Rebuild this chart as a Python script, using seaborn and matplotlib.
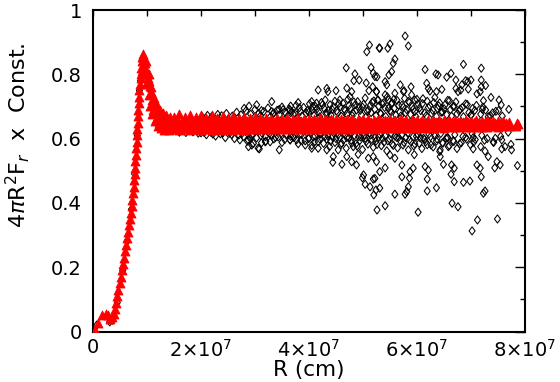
import numpy as np
import pandas as pd
import matplotlib
matplotlib.use("Agg")
import matplotlib.pyplot as plt
from matplotlib.path import Path
from matplotlib.ticker import MultipleLocator, FixedLocator
import seaborn as sns

# ---------------- data (R in units of 1e7 cm) ----------------
# red triangles: rising part, peak and decay
red_curve_r = [0.04, 0.10, 0.16, 0.24, 0.28, 0.32, 0.36, 0.39, 0.41, 0.43,
               0.45, 0.47, 0.50, 0.52, 0.54, 0.56, 0.58, 0.60, 0.62, 0.635,
               0.65, 0.67, 0.69, 0.70, 0.715, 0.73, 0.74, 0.75, 0.76, 0.77,
               0.775, 0.785, 0.79, 0.80, 0.81, 0.815, 0.82, 0.83, 0.835, 0.84,
               0.85, 0.855, 0.86, 0.865,
               0.88, 0.89, 0.90, 0.91, 0.92, 0.93, 0.94, 0.95, 0.89, 0.91, 0.93, 0.96,
               0.98, 1.03, 1.08, 1.13, 1.18, 1.24, 1.30, 1.36, 1.42,
               0.95, 0.99, 1.03, 1.06, 1.10, 1.15, 1.20, 1.26, 1.32, 1.40,
               1.00, 1.05, 1.10, 1.15, 1.20, 1.25, 1.30, 1.36, 1.42]
red_curve_v = [0.005, 0.025, 0.05, 0.055, 0.05, 0.04, 0.045, 0.055, 0.07, 0.09,
               0.11, 0.13, 0.15, 0.17, 0.19, 0.21, 0.23, 0.25, 0.27, 0.29,
               0.31, 0.33, 0.35, 0.37, 0.39, 0.41, 0.43, 0.45, 0.47, 0.49,
               0.51, 0.53, 0.55, 0.57, 0.59, 0.61, 0.63, 0.65, 0.67, 0.69,
               0.71, 0.73, 0.75, 0.77,
               0.80, 0.82, 0.84, 0.855, 0.862, 0.855, 0.845, 0.835, 0.79, 0.81, 0.82, 0.82,
               0.84, 0.80, 0.76, 0.725, 0.705, 0.69, 0.68, 0.672, 0.668,
               0.80, 0.77, 0.735, 0.70, 0.675, 0.655, 0.64, 0.632, 0.628, 0.626,
               0.80, 0.765, 0.72, 0.695, 0.67, 0.66, 0.652, 0.648, 0.646]
red_fill_r = [0.97, 1.01, 1.04, 1.07, 1.09, 1.12, 1.14, 1.17, 1.19, 1.22, 1.28, 1.34, 1.39,
              1.12, 1.17, 1.23, 1.29, 1.35, 1.45, 1.45]
red_fill_v = [0.835, 0.79, 0.78, 0.745, 0.74, 0.71, 0.70, 0.685, 0.68, 0.67, 0.665, 0.658, 0.655,
              0.69, 0.66, 0.648, 0.64, 0.636, 0.636, 0.656]

# red triangles: flat band, five rows
red_flat_r = [1.5, 1.6, 1.7, 1.8, 1.9, 2.0, 2.1, 2.2, 2.3, 2.4, 2.5, 2.6, 2.7, 2.8, 2.9, 3.0,
              3.1, 3.2, 3.3, 3.4, 3.5, 3.6, 3.7, 3.8, 3.9, 4.0, 4.1, 4.2, 4.3, 4.4, 4.5, 4.6,
              4.7, 4.8, 4.9, 5.0, 5.1, 5.2, 5.3, 5.4, 5.5, 5.6, 5.7, 5.8, 5.9, 6.0, 6.1, 6.2,
              6.3, 6.4, 6.5, 6.6, 6.7, 6.8, 6.9, 7.0, 7.1, 7.2, 7.3, 7.4, 7.5, 7.6, 7.7]
red_top_v = [0.668, 0.675, 0.666, 0.674, 0.667, 0.673, 0.665, 0.672, 0.665, 0.670, 0.664, 0.669, 0.663, 0.667, 0.663, 0.666,
             0.663, 0.665, 0.662, 0.664, 0.662, 0.663, 0.661, 0.664, 0.661, 0.662, 0.661, 0.663, 0.660, 0.662, 0.660, 0.661,
             0.660, 0.662, 0.659, 0.661, 0.660, 0.659, 0.661, 0.659, 0.660, 0.658, 0.660, 0.658, 0.659, 0.658, 0.659, 0.657,
             0.659, 0.657, 0.658, 0.657, 0.658, 0.656, 0.658, 0.656, 0.657, 0.656, 0.657, 0.655, 0.656, 0.654, 0.653]
red_mid_v = [0.646, 0.647, 0.645, 0.646, 0.644, 0.646, 0.645, 0.645, 0.644, 0.646, 0.645, 0.644, 0.645, 0.646, 0.644, 0.645,
             0.645, 0.644, 0.646, 0.645, 0.644, 0.645, 0.645, 0.644, 0.646, 0.645, 0.644, 0.645, 0.646, 0.645, 0.644, 0.645,
             0.645, 0.646, 0.644, 0.645, 0.645, 0.644, 0.645, 0.646, 0.645, 0.644, 0.645, 0.645, 0.646, 0.645, 0.644, 0.645,
             0.646, 0.645, 0.645, 0.644, 0.645, 0.646, 0.645, 0.645, 0.645, 0.646, 0.645, 0.645, 0.644, 0.645, 0.645]
red_bot_v = [0.630, 0.628, 0.629, 0.627, 0.629, 0.628, 0.629, 0.627, 0.629, 0.628, 0.630, 0.628, 0.629, 0.628, 0.630, 0.629,
             0.630, 0.629, 0.630, 0.629, 0.631, 0.630, 0.630, 0.629, 0.631, 0.630, 0.631, 0.630, 0.631, 0.630, 0.632, 0.631,
             0.631, 0.630, 0.632, 0.631, 0.632, 0.631, 0.632, 0.633, 0.632, 0.633, 0.632, 0.633, 0.634, 0.633, 0.634, 0.633,
             0.634, 0.635, 0.634, 0.635, 0.636, 0.635, 0.636, 0.635, 0.637, 0.636, 0.637, 0.638, 0.637, 0.638, 0.639]
red_flat_r2 = [1.55, 1.65, 1.75, 1.85, 1.95, 2.05, 2.15, 2.25, 2.35, 2.45, 2.55, 2.65, 2.75, 2.85, 2.95, 3.05,
               3.15, 3.25, 3.35, 3.45, 3.55, 3.65, 3.75, 3.85, 3.95, 4.05, 4.15, 4.25, 4.35, 4.45, 4.55, 4.65,
               4.75, 4.85, 4.95, 5.05, 5.15, 5.25, 5.35, 5.45, 5.55, 5.65, 5.75, 5.85, 5.95, 6.05, 6.15, 6.25,
               6.35, 6.45, 6.55, 6.65, 6.75, 6.85, 6.95, 7.05, 7.15, 7.25, 7.35, 7.45, 7.55, 7.65]
red_um_v = [0.656, 0.655, 0.657, 0.654, 0.656, 0.655, 0.654, 0.656, 0.655, 0.654, 0.656, 0.655, 0.654, 0.655, 0.656, 0.654,
            0.654, 0.655, 0.653, 0.654, 0.655, 0.653, 0.654, 0.654, 0.653, 0.655, 0.654, 0.653, 0.654, 0.654, 0.653, 0.655,
            0.654, 0.653, 0.654, 0.653, 0.653, 0.654, 0.653, 0.652, 0.654, 0.653, 0.652, 0.653, 0.654, 0.652, 0.653, 0.652,
            0.653, 0.652, 0.653, 0.651, 0.652, 0.653, 0.651, 0.652, 0.651, 0.652, 0.651, 0.650, 0.651, 0.649]
red_lm_v = [0.637, 0.638, 0.636, 0.638, 0.637, 0.636, 0.638, 0.637, 0.636, 0.638, 0.637, 0.636, 0.637, 0.638, 0.637, 0.636,
            0.638, 0.637, 0.638, 0.639, 0.637, 0.638, 0.639, 0.638, 0.637, 0.639, 0.638, 0.639, 0.638, 0.637, 0.639, 0.638,
            0.639, 0.638, 0.639, 0.638, 0.639, 0.640, 0.639, 0.640, 0.639, 0.640, 0.641, 0.640, 0.639, 0.640, 0.641, 0.640,
            0.641, 0.640, 0.641, 0.642, 0.641, 0.642, 0.641, 0.642, 0.642, 0.643, 0.642, 0.643, 0.643, 0.644]
red_tail_r = [7.84, 7.87, 7.86]
red_tail_v = [0.640, 0.644, 0.648]

# black diamonds: along the rising curve
black_curve_r = [0.07, 0.31, 0.36, 0.45, 0.55, 0.63, 0.71, 0.77, 0.82, 0.86, 0.88]
black_curve_v = [0.02, 0.03, 0.035, 0.09, 0.19, 0.28, 0.38, 0.49, 0.61, 0.75, 0.78]

# black diamonds: dense cloud just above the band
black_hi_r = [2.02, 2.12, 2.2, 2.31, 2.38, 2.47, 2.58, 2.66, 2.74, 2.83, 2.92, 3.0, 3.07, 3.16, 3.24, 3.33,
              3.41, 3.5, 3.56, 3.63, 3.71, 3.76, 3.84, 3.9, 3.95, 4.01, 4.06, 4.12, 4.18, 4.23, 4.28, 4.34,
              4.39, 4.43, 4.48, 4.53, 4.58, 4.63, 4.67, 4.72, 4.77, 4.81, 4.86, 4.9, 4.95, 4.99, 5.04, 5.08,
              5.13, 5.17, 5.22, 5.27, 5.32, 5.36, 5.4, 5.45, 5.5, 5.54, 5.58, 5.63, 5.68, 5.72, 5.77, 5.81,
              5.86, 5.91, 5.96, 6.0, 6.05, 6.1, 6.14, 6.19, 6.24, 6.29, 6.33, 6.38, 6.42, 6.47, 6.52, 6.57,
              6.62, 6.67, 6.72, 6.78, 6.84, 6.9, 6.96, 7.03, 7.1, 7.18, 7.27, 7.36, 7.46, 7.58]
black_hi_v = [0.668, 0.672, 0.669, 0.675, 0.671, 0.678, 0.670, 0.682, 0.674, 0.686, 0.676, 0.690, 0.679, 0.684, 0.695, 0.677,
              0.688, 0.698, 0.681, 0.692, 0.676, 0.703, 0.685, 0.697, 0.679, 0.708, 0.689, 0.700, 0.683, 0.712, 0.694, 0.678,
              0.705, 0.690, 0.716, 0.681, 0.699, 0.710, 0.687, 0.722, 0.693, 0.680, 0.706, 0.715, 0.688, 0.698, 0.726, 0.684,
              0.702, 0.713, 0.691, 0.720, 0.679, 0.707, 0.697, 0.730, 0.686, 0.711, 0.694, 0.719, 0.682, 0.704, 0.725, 0.690,
              0.713, 0.700, 0.684, 0.722, 0.696, 0.709, 0.680, 0.716, 0.702, 0.688, 0.728, 0.694, 0.711, 0.683, 0.705, 0.719,
              0.690, 0.700, 0.714, 0.686, 0.697, 0.708, 0.681, 0.694, 0.703, 0.676, 0.689, 0.672, 0.685, 0.670]
black_hi2_r = [3.1, 3.28, 3.45, 3.6, 3.74, 3.87, 4.0, 4.09, 4.2, 4.31, 4.41, 4.51, 4.6, 4.7, 4.8, 4.88, 4.97, 5.06, 5.15,
               5.24, 5.33, 5.42, 5.52, 5.61, 5.7, 5.79, 5.88, 5.98, 6.07, 6.17, 6.27, 6.36, 6.45, 6.55, 6.64, 6.74, 6.86, 7.0]
black_hi2_v = [0.671, 0.667, 0.674, 0.669, 0.678, 0.670, 0.683, 0.672, 0.668, 0.679, 0.673, 0.686, 0.669, 0.676, 0.671,
               0.689, 0.674, 0.668, 0.681, 0.672, 0.677, 0.669, 0.684, 0.673, 0.670, 0.680, 0.675, 0.668, 0.687, 0.671,
               0.678, 0.669, 0.682, 0.674, 0.670, 0.677, 0.668, 0.673]
black_hi3_r = [3.35, 3.52, 3.68, 3.82, 3.97, 4.07, 4.15, 4.25, 4.36, 4.45, 4.55, 4.65, 4.74, 4.83, 4.92, 5.01, 5.1, 5.2,
               5.29, 5.38, 5.47, 5.57, 5.66, 5.75, 5.84, 5.93, 6.02, 6.11, 6.21, 6.31, 6.4, 6.5, 6.6, 6.69, 6.8, 6.93,
               7.07, 7.22, 7.4]
black_hi3_v = [0.680, 0.690, 0.684, 0.696, 0.687, 0.700, 0.693, 0.705, 0.688, 0.699, 0.709, 0.692, 0.703, 0.714, 0.696,
               0.707, 0.690, 0.717, 0.701, 0.711, 0.694, 0.722, 0.704, 0.698, 0.716, 0.691, 0.708, 0.724, 0.697, 0.712,
               0.702, 0.693, 0.718, 0.700, 0.692, 0.706, 0.688, 0.698, 0.680]

# black diamonds: dense cloud just below the band
black_lo_r = [2.0, 2.1, 2.18, 2.27, 2.36, 2.45, 2.53, 2.62, 2.7, 2.79, 2.87, 2.95, 3.03, 3.11, 3.2, 3.27, 3.35, 3.43,
              3.5, 3.58, 3.65, 3.72, 3.8, 3.86, 3.93, 3.99, 4.05, 4.11, 4.17, 4.22, 4.27, 4.33, 4.38, 4.43, 4.48, 4.54,
              4.59, 4.64, 4.69, 4.74, 4.79, 4.84, 4.89, 4.94, 4.99, 5.04, 5.09, 5.14, 5.19, 5.24, 5.29, 5.34, 5.39, 5.44,
              5.49, 5.54, 5.59, 5.64, 5.69, 5.74, 5.79, 5.84, 5.89, 5.94, 5.99, 6.04, 6.09, 6.14, 6.19, 6.25, 6.3, 6.36,
              6.42, 6.48, 6.54, 6.6, 6.67, 6.74, 6.82, 6.9, 6.99, 7.08, 7.18, 7.3, 7.42, 7.55]
black_lo_v = [0.618, 0.612, 0.620, 0.608, 0.615, 0.603, 0.617, 0.600, 0.611, 0.606, 0.597, 0.614, 0.602, 0.609, 0.592, 0.616,
              0.599, 0.605, 0.588, 0.611, 0.596, 0.603, 0.584, 0.613, 0.593, 0.600, 0.579, 0.608, 0.590, 0.614, 0.585, 0.598,
              0.575, 0.606, 0.588, 0.612, 0.581, 0.596, 0.570, 0.603, 0.586, 0.610, 0.577, 0.594, 0.566, 0.601, 0.583, 0.611,
              0.573, 0.592, 0.604, 0.578, 0.589, 0.562, 0.599, 0.583, 0.608, 0.571, 0.593, 0.580, 0.603, 0.565, 0.590, 0.577,
              0.607, 0.585, 0.569, 0.598, 0.581, 0.606, 0.574, 0.592, 0.560, 0.586, 0.601, 0.578, 0.594, 0.569, 0.587, 0.604,
              0.581, 0.597, 0.575, 0.600, 0.588, 0.607]
black_lo2_r = [1.6, 1.72, 1.85, 1.95, 2.06, 2.22, 2.4, 2.57, 2.76, 2.94, 3.13, 3.31, 3.48, 3.66, 3.83, 3.96, 4.08, 4.2, 4.35,
               4.46, 4.57, 4.67, 4.78, 4.92, 5.02, 5.12, 5.22, 5.31, 5.41, 5.52, 5.62, 5.72, 5.83, 5.93, 6.02, 6.12, 6.22,
               6.33, 6.44, 6.56, 6.7, 6.85, 7.02, 7.2]
black_lo2_v = [0.620, 0.619, 0.621, 0.617, 0.619, 0.614, 0.618, 0.612, 0.616, 0.610, 0.617, 0.609, 0.615, 0.607, 0.613,
               0.619, 0.605, 0.614, 0.609, 0.617, 0.603, 0.612, 0.616, 0.606, 0.611, 0.618, 0.602, 0.613, 0.608, 0.615,
               0.604, 0.611, 0.617, 0.606, 0.612, 0.601, 0.614, 0.608, 0.616, 0.603, 0.612, 0.607, 0.615, 0.610]
black_lo3_r = [3.38, 3.55, 3.7, 3.85, 4.0, 4.1, 4.2, 4.3, 4.4, 4.5, 4.6, 4.7, 4.78, 4.87, 4.96, 5.06, 5.16, 5.26, 5.36,
               5.46, 5.56, 5.66, 5.76, 5.86, 5.96, 6.06, 6.16, 6.26, 6.37, 6.47, 6.57, 6.68, 6.79, 6.92, 7.05, 7.25, 7.45]
black_lo3_v = [0.604, 0.597, 0.607, 0.594, 0.602, 0.589, 0.599, 0.607, 0.592, 0.600, 0.586, 0.603, 0.595, 0.584, 0.605,
               0.591, 0.598, 0.582, 0.601, 0.593, 0.579, 0.604, 0.588, 0.596, 0.583, 0.602, 0.590, 0.580, 0.599, 0.587,
               0.603, 0.591, 0.584, 0.598, 0.589, 0.595, 0.601]

# black diamonds: outlying scatter
black_out_r = [5.12, 5.07, 5.30, 4.69, 4.85, 4.83, 4.93, 5.15, 5.19, 5.26, 5.06, 5.11, 5.18, 5.25, 4.70, 4.79, 4.76, 4.17,
               4.33, 4.35, 4.50, 4.57, 4.30, 3.31, 4.05, 4.14, 3.80, 3.66, 3.65, 3.03, 2.89, 2.80, 3.45, 3.31, 3.12,
               5.78, 5.84, 5.31, 5.46, 5.50, 5.59, 5.56, 5.53, 5.48, 5.41, 5.44, 6.15, 6.86, 7.19, 6.35, 6.39, 6.55, 6.63,
               6.72, 6.90, 6.94, 7.00, 7.19, 7.27, 7.19, 7.17, 5.69, 5.89, 5.76, 6.18, 6.21, 6.24, 6.46, 6.36, 6.72, 6.76,
               6.83, 6.81, 6.95, 7.11, 7.23, 7.21, 7.37, 7.52, 7.56, 7.51, 7.70, 7.32, 7.00, 5.22, 5.25, 5.28, 5.41, 5.47,
               5.53, 5.59, 5.75, 5.90, 5.96,
               2.72, 2.88, 2.97, 2.91, 3.08, 3.19, 3.45, 3.65, 3.77, 3.93, 4.05, 4.17, 4.33, 4.45, 4.44, 4.61, 4.54, 4.70,
               4.79, 4.88, 4.91, 4.82, 5.01, 4.99, 5.04, 5.13, 5.19, 5.24, 5.20, 5.26, 5.10, 5.19, 5.25, 2.86, 2.94, 3.06,
               3.12, 3.28, 3.19,
               5.41, 5.59, 5.78, 5.81, 5.72, 5.86, 5.87, 5.84, 6.02, 6.15, 6.21, 6.19, 6.19, 6.36, 6.43, 6.49, 6.43, 6.58,
               6.64, 6.69, 6.63, 6.69, 6.65, 6.76, 6.86, 6.98, 7.04, 7.04, 7.11, 7.17, 7.19, 7.23, 7.26, 7.12, 7.02, 7.26,
               7.32, 7.41, 7.57, 7.48, 7.54, 7.44, 7.57, 7.63, 7.74, 7.75, 7.69, 7.86, 7.49,
               5.22, 5.31, 5.41, 5.59, 5.72, 5.50, 5.31, 5.93, 5.95]
black_out_v = [0.891, 0.870, 0.882, 0.820, 0.801, 0.780, 0.782, 0.821, 0.804, 0.792, 0.773, 0.749, 0.761, 0.746, 0.757,
               0.746, 0.730, 0.751, 0.756, 0.746, 0.749, 0.720, 0.720, 0.715, 0.715, 0.710, 0.712, 0.701, 0.689, 0.705,
               0.701, 0.694, 0.691, 0.684, 0.687,
               0.919, 0.888, 0.881, 0.881, 0.894, 0.847, 0.834, 0.808, 0.798, 0.777, 0.767, 0.815, 0.831, 0.819, 0.801,
               0.798, 0.791, 0.803, 0.782, 0.780, 0.777, 0.782, 0.782, 0.765, 0.761, 0.746, 0.767, 0.761, 0.749, 0.772,
               0.756, 0.748, 0.753, 0.746, 0.756, 0.746, 0.767, 0.751, 0.754, 0.739, 0.718, 0.691, 0.728, 0.720, 0.705,
               0.687, 0.691, 0.668, 0.673, 0.793, 0.746, 0.720, 0.736, 0.720, 0.710, 0.741, 0.746, 0.736, 0.720,
               0.596, 0.575, 0.585, 0.601, 0.568, 0.590, 0.565, 0.596, 0.596, 0.580, 0.570, 0.570, 0.565, 0.544, 0.526,
               0.520, 0.565, 0.544, 0.528, 0.518, 0.551, 0.575, 0.487, 0.478, 0.458, 0.450, 0.474, 0.440, 0.425, 0.378,
               0.539, 0.544, 0.528, 0.592, 0.580, 0.570, 0.587, 0.590, 0.606,
               0.391, 0.427, 0.427, 0.435, 0.481, 0.477, 0.497, 0.450, 0.371, 0.513, 0.502, 0.474, 0.437, 0.447, 0.544,
               0.520, 0.565, 0.575, 0.518, 0.508, 0.489, 0.466, 0.399, 0.388, 0.464, 0.468, 0.603, 0.568, 0.518, 0.508,
               0.481, 0.430, 0.437, 0.347, 0.313, 0.561, 0.544, 0.590, 0.596, 0.528, 0.518, 0.509, 0.568, 0.575, 0.582,
               0.565, 0.620, 0.516, 0.350,
               0.476, 0.497, 0.509, 0.539, 0.518, 0.549, 0.446, 0.508, 0.550]

x_ticks = [0, 2e7, 4e7, 6e7, 8e7]
x_tick_labels = ['0', r'2$\times$10$^{7}$', r'4$\times$10$^{7}$', r'6$\times$10$^{7}$', r'8$\times$10$^{7}$']
y_ticks = [0, 0.2, 0.4, 0.6, 0.8, 1.0]
y_tick_labels = ['0', '0.2', '0.4', '0.6', '0.8', '1']

# ---------------- tables ----------------
SCALE = 1e7
black = pd.DataFrame({
    'R': np.array(black_curve_r + black_hi_r + black_hi2_r + black_hi3_r + black_lo_r + black_lo2_r
                  + black_lo3_r + black_out_r) * SCALE,
    'F': black_curve_v + black_hi_v + black_hi2_v + black_hi3_v + black_lo_v + black_lo2_v
         + black_lo3_v + black_out_v,
})
red = pd.DataFrame({
    'R': np.array(red_curve_r + red_fill_r + red_flat_r * 3 + red_flat_r2 * 2 + red_tail_r) * SCALE,
    'F': red_curve_v + red_fill_v + red_top_v + red_mid_v + red_bot_v + red_um_v + red_lm_v + red_tail_v,
})

# ---------------- style ----------------
sns.set_style('white')
plt.rcParams['font.family'] = ['DejaVu Sans']
plt.rcParams['mathtext.fontset'] = 'dejavusans'

fig = plt.figure(figsize=(5.6, 3.82), dpi=100)
ax = fig.add_axes([93 / 560, 1 - 331.5 / 382, 432 / 560, 321.5 / 382])

diamond = Path([(0, 1), (0.75, 0), (0, -1), (-0.75, 0), (0, 1)],
               [Path.MOVETO, Path.LINETO, Path.LINETO, Path.LINETO, Path.CLOSEPOLY])

sns.scatterplot(data=black, x='R', y='F', ax=ax, marker=diamond, s=34,
                facecolors='none', edgecolor='black', linewidth=0.75, zorder=2, legend=False)
sns.scatterplot(data=red, x='R', y='F', ax=ax, marker='^', s=42,
                color='#ff0000', edgecolor='#ff0000', linewidth=0.6,
                zorder=3, legend=False)

ax.set_xlim(0, 8e7)
ax.set_ylim(0, 1)
ax.xaxis.set_major_locator(FixedLocator(x_ticks))
ax.set_xticklabels(x_tick_labels)
ax.xaxis.set_minor_locator(MultipleLocator(1e7))
ax.yaxis.set_major_locator(FixedLocator(y_ticks))
ax.set_yticklabels(y_tick_labels)
ax.yaxis.set_minor_locator(MultipleLocator(0.1))

for s in ax.spines.values():
    s.set_linewidth(1.5)
    s.set_color('black')

ax.tick_params(axis='both', which='both', direction='in', top=True, right=True,
               color='black', width=1.0, labelsize=14, labelcolor='black')
ax.tick_params(axis='x', which='both', length=4.5, pad=5)
ax.tick_params(axis='y', which='major', length=7.5, pad=8)
ax.tick_params(axis='y', which='minor', length=3.8)

ax.set_xlabel('R (cm)', fontsize=15.5, color='black')
ax.set_ylabel(r'4$\pi$R$^{2}$F$_{r}$  x  Const.', fontsize=16, color='black')
ax.xaxis.set_label_coords(0.5, -0.088)
ax.yaxis.set_label_coords(-0.142, 0.61)

fig.savefig('out.png', dpi=100)
